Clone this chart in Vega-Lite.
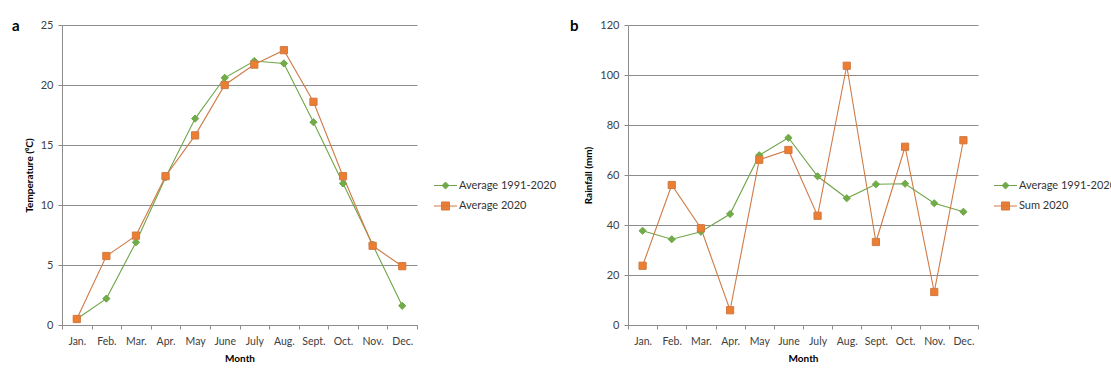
{
  "$schema": "https://vega.github.io/schema/vega-lite/v6.json",
  "padding": {"left": 12, "top": 19, "right": 0, "bottom": 0},
  "bounds": "flush",
  "spacing": 211,
  "background": "white",
  "config": {
    "font": "Lato",
    "view": {"stroke": null},
    "axis": {
      "domainColor": "#8c8c8c", "gridColor": "#8c8c8c", "tickColor": "#8c8c8c",
      "labelColor": "#404040", "labelFont": "Lato", "labelFontSize": 11,
      "titleFont": "Lato", "titleFontSize": 10, "titleFontWeight": "bold", "titleColor": "#000",
      "tickSize": 4, "domainWidth": 1, "gridWidth": 1, "tickWidth": 1,
      "labelPadding": 5, "titlePadding": 6
    },
    "axisX": {"grid": false, "labelFontSize": 10.5, "labelAngle": 0, "labelPadding": 7, "titlePadding": 7},
    "axisY": {"grid": true, "titlePadding": 6},
    "title": {"font": "Lato", "fontSize": 15, "fontWeight": "bold", "color": "#000", "anchor": "start", "frame": "group", "offset": 0, "baseline": "top"},
    "legend": {"labelFont": "Lato", "labelFontSize": 11, "labelColor": "#333333", "symbolStrokeWidth": 1, "symbolOpacity": 1}
  },
  "datasets": {
    "temp": [
      {"month": "Jan.", "series": "Average 1991-2020", "value": 0.5},
      {"month": "Feb.", "series": "Average 1991-2020", "value": 2.2},
      {"month": "Mar.", "series": "Average 1991-2020", "value": 6.9},
      {"month": "Apr.", "series": "Average 1991-2020", "value": 12.3},
      {"month": "May", "series": "Average 1991-2020", "value": 17.2},
      {"month": "June", "series": "Average 1991-2020", "value": 20.6},
      {"month": "July", "series": "Average 1991-2020", "value": 22.0},
      {"month": "Aug.", "series": "Average 1991-2020", "value": 21.8},
      {"month": "Sept.", "series": "Average 1991-2020", "value": 16.9},
      {"month": "Oct.", "series": "Average 1991-2020", "value": 11.8},
      {"month": "Nov.", "series": "Average 1991-2020", "value": 6.7},
      {"month": "Dec.", "series": "Average 1991-2020", "value": 1.6},
      {"month": "Jan.", "series": "Average 2020", "value": 0.5},
      {"month": "Feb.", "series": "Average 2020", "value": 5.75},
      {"month": "Mar.", "series": "Average 2020", "value": 7.45},
      {"month": "Apr.", "series": "Average 2020", "value": 12.4},
      {"month": "May", "series": "Average 2020", "value": 15.8},
      {"month": "June", "series": "Average 2020", "value": 20.0},
      {"month": "July", "series": "Average 2020", "value": 21.7},
      {"month": "Aug.", "series": "Average 2020", "value": 22.9},
      {"month": "Sept.", "series": "Average 2020", "value": 18.6},
      {"month": "Oct.", "series": "Average 2020", "value": 12.4},
      {"month": "Nov.", "series": "Average 2020", "value": 6.6},
      {"month": "Dec.", "series": "Average 2020", "value": 4.9}
    ],
    "rain": [
      {"month": "Jan.", "series": "Average 1991-2020", "value": 37.7},
      {"month": "Feb.", "series": "Average 1991-2020", "value": 34.3},
      {"month": "Mar.", "series": "Average 1991-2020", "value": 37.3},
      {"month": "Apr.", "series": "Average 1991-2020", "value": 44.4},
      {"month": "May", "series": "Average 1991-2020", "value": 67.9},
      {"month": "June", "series": "Average 1991-2020", "value": 74.9},
      {"month": "July", "series": "Average 1991-2020", "value": 59.5},
      {"month": "Aug.", "series": "Average 1991-2020", "value": 50.7},
      {"month": "Sept.", "series": "Average 1991-2020", "value": 56.3},
      {"month": "Oct.", "series": "Average 1991-2020", "value": 56.5},
      {"month": "Nov.", "series": "Average 1991-2020", "value": 48.7},
      {"month": "Dec.", "series": "Average 1991-2020", "value": 45.3},
      {"month": "Jan.", "series": "Sum 2020", "value": 23.7},
      {"month": "Feb.", "series": "Sum 2020", "value": 56.0},
      {"month": "Mar.", "series": "Sum 2020", "value": 38.7},
      {"month": "Apr.", "series": "Sum 2020", "value": 5.9},
      {"month": "May", "series": "Sum 2020", "value": 66.1},
      {"month": "June", "series": "Sum 2020", "value": 70.0},
      {"month": "July", "series": "Sum 2020", "value": 43.7},
      {"month": "Aug.", "series": "Sum 2020", "value": 103.7},
      {"month": "Sept.", "series": "Sum 2020", "value": 33.2},
      {"month": "Oct.", "series": "Sum 2020", "value": 71.3},
      {"month": "Nov.", "series": "Sum 2020", "value": 13.2},
      {"month": "Dec.", "series": "Sum 2020", "value": 73.9}
    ]
  },
  "resolve": {
    "scale": {"color": "independent", "shape": "independent", "stroke": "independent", "y": "independent", "x": "independent"},
    "legend": {"color": "independent", "shape": "independent", "stroke": "independent"}
  },
  "hconcat": [
    {
      "width": 355,
      "height": 300,
      "title": {"text": "a", "dx": -50, "dy": 19},
      "data": {"name": "temp"},
      "resolve": {
        "scale": {"color": "independent", "shape": "independent", "stroke": "independent"},
        "legend": {"color": "independent", "shape": "independent", "stroke": "independent"}
      },
      "encoding": {
        "x": {
          "field": "month", "type": "nominal",
          "sort": ["Jan.", "Feb.", "Mar.", "Apr.", "May", "June", "July", "Aug.", "Sept.", "Oct.", "Nov.", "Dec."],
          "scale": {"type": "band", "paddingInner": 0, "paddingOuter": 0},
          "axis": {"title": "Month", "tickBand": "extent"}
        },
        "y": {
          "field": "value", "type": "quantitative",
          "scale": {"domain": [0, 25], "nice": false},
          "axis": {"title": "Temperature (⁰C)", "values": [0, 5, 10, 15, 20, 25]}
        }
      },
      "layer": [
        {
          "mark": {"type": "line", "strokeWidth": 1.1},
          "encoding": {
            "stroke": {"field": "series", "type": "nominal", "scale": {"domain": ["Average 1991-2020", "Average 2020"], "range": ["#6fa548", "#cf7a45"]}, "legend": null}
          }
        },
        {
          "mark": {"type": "point", "filled": true, "opacity": 1, "strokeWidth": 1, "size": 52},
          "encoding": {
            "color": {"field": "series", "type": "nominal", "scale": {"domain": ["Average 1991-2020", "Average 2020"], "range": ["#70AD47", "#ED7D31"]}, "legend": null},
            "shape": {"field": "series", "type": "nominal", "scale": {"domain": ["Average 1991-2020", "Average 2020"], "range": ["diamond", "square"]}, "legend": null},
            "stroke": {"field": "series", "type": "nominal", "scale": {"domain": ["Average 1991-2020", "Average 2020"], "range": ["#6fa548", "#cf7a45"]}, "legend": null}
          }
        },
        {
          "transform": [{"filter": "false"}],
          "mark": {"type": "point", "filled": true, "opacity": 1, "strokeWidth": 1},
          "encoding": {
            "color": {
              "field": "series", "type": "nominal",
              "scale": {"domain": ["Average 1991-2020", "Average 2020"], "range": ["#70AD47", "#ED7D31"]},
              "legend": {"title": null, "orient": "none", "legendX": 377, "legendY": 154, "symbolSize": 132, "rowPadding": 8.5, "labelOffset": 7}
            },
            "shape": {"field": "series", "type": "nominal", "scale": {"domain": ["Average 1991-2020", "Average 2020"], "range": ["M-2,0H2M0,-0.6L0.6,0L0,0.6L-0.6,0Z", "M-2,0H2M-0.7,-0.7H0.7V0.7H-0.7Z"]}},
            "stroke": {"field": "series", "type": "nominal", "scale": {"domain": ["Average 1991-2020", "Average 2020"], "range": ["#6fa548", "#cf7a45"]}}
          }
        }
      ]
    },
    {
      "width": 350,
      "height": 300,
      "title": {"text": "b", "dx": -58, "dy": 19},
      "data": {"name": "rain"},
      "resolve": {
        "scale": {"color": "independent", "shape": "independent", "stroke": "independent"},
        "legend": {"color": "independent", "shape": "independent", "stroke": "independent"}
      },
      "encoding": {
        "x": {
          "field": "month", "type": "nominal",
          "sort": ["Jan.", "Feb.", "Mar.", "Apr.", "May", "June", "July", "Aug.", "Sept.", "Oct.", "Nov.", "Dec."],
          "scale": {"type": "band", "paddingInner": 0, "paddingOuter": 0},
          "axis": {"title": "Month", "tickBand": "extent"}
        },
        "y": {
          "field": "value", "type": "quantitative",
          "scale": {"domain": [0, 120], "nice": false},
          "axis": {"title": "Rainfall (mm)", "values": [0, 20, 40, 60, 80, 100, 120]}
        }
      },
      "layer": [
        {
          "mark": {"type": "line", "strokeWidth": 1.1},
          "encoding": {
            "stroke": {"field": "series", "type": "nominal", "scale": {"domain": ["Average 1991-2020", "Sum 2020"], "range": ["#6fa548", "#cf7a45"]}, "legend": null}
          }
        },
        {
          "mark": {"type": "point", "filled": true, "opacity": 1, "strokeWidth": 1, "size": 52},
          "encoding": {
            "color": {"field": "series", "type": "nominal", "scale": {"domain": ["Average 1991-2020", "Sum 2020"], "range": ["#70AD47", "#ED7D31"]}, "legend": null},
            "shape": {"field": "series", "type": "nominal", "scale": {"domain": ["Average 1991-2020", "Sum 2020"], "range": ["diamond", "square"]}, "legend": null},
            "stroke": {"field": "series", "type": "nominal", "scale": {"domain": ["Average 1991-2020", "Sum 2020"], "range": ["#6fa548", "#cf7a45"]}, "legend": null}
          }
        },
        {
          "transform": [{"filter": "false"}],
          "mark": {"type": "point", "filled": true, "opacity": 1, "strokeWidth": 1},
          "encoding": {
            "color": {
              "field": "series", "type": "nominal",
              "scale": {"domain": ["Average 1991-2020", "Sum 2020"], "range": ["#70AD47", "#ED7D31"]},
              "legend": {"title": null, "orient": "none", "legendX": 371, "legendY": 154, "symbolSize": 132, "rowPadding": 8.5, "labelOffset": 7}
            },
            "shape": {"field": "series", "type": "nominal", "scale": {"domain": ["Average 1991-2020", "Sum 2020"], "range": ["M-2,0H2M0,-0.6L0.6,0L0,0.6L-0.6,0Z", "M-2,0H2M-0.7,-0.7H0.7V0.7H-0.7Z"]}},
            "stroke": {"field": "series", "type": "nominal", "scale": {"domain": ["Average 1991-2020", "Sum 2020"], "range": ["#6fa548", "#cf7a45"]}}
          }
        }
      ]
    }
  ]
}
